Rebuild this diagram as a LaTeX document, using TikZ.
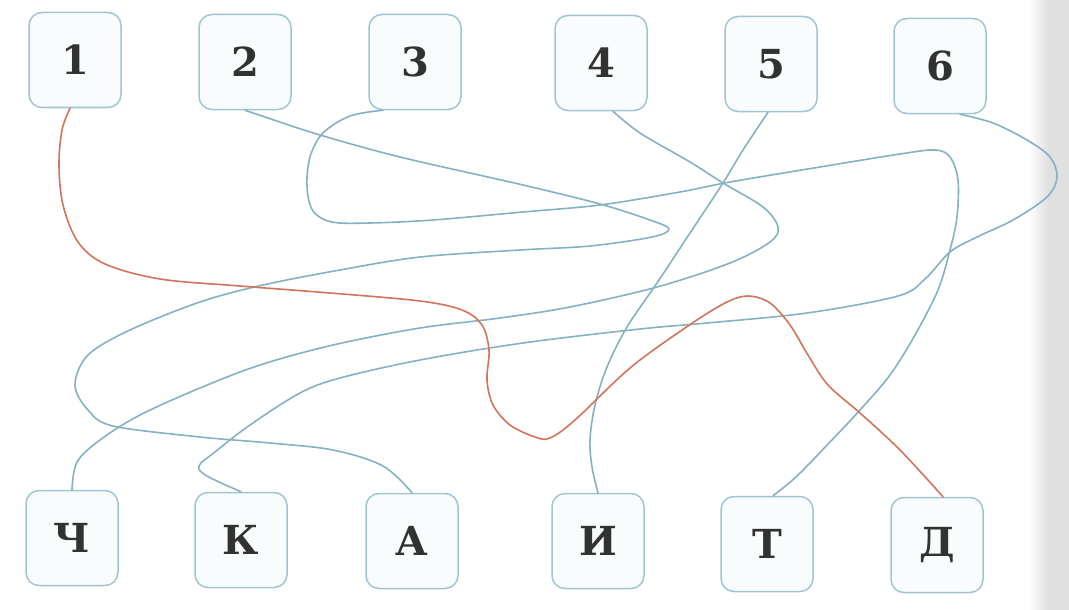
\documentclass[tikz,border=0pt]{standalone}
\usepackage{fontspec}
\setmainfont{DejaVu Serif}
\begin{document}
\begin{tikzpicture}[x=1pt,y=-1pt]
\definecolor{lineblue}{RGB}{132,178,195}
\definecolor{linered}{RGB}{210,116,90}
\definecolor{boxedge}{RGB}{160,196,210}
\definecolor{boxfill}{RGB}{249,252,253}
\definecolor{txt}{RGB}{50,50,50}
\tikzset{
  box/.style={draw=boxedge, fill=boxfill, line width=1.5pt, rounded corners=13pt,
    minimum width=92pt, minimum height=95pt, inner sep=0pt, text=txt,
    font=\fontsize{40}{44}\selectfont\bfseries},
  blueline/.style={draw=lineblue, line width=1.6pt, line cap=round, line join=round},
  redline/.style={draw=linered, line width=1.6pt, line cap=round, line join=round},
  curvy/.style={smooth, tension=0.55}
}
\useasboundingbox (0,0) rectangle (1069,610);
\fill[white] (0,0) rectangle (1069,610);
\shade[left color=white, right color=black!12] (1028,0) rectangle (1048,610);
\fill[black!12] (1048,0) rectangle (1069,610);

% top boxes
\node[box] (n1) at (75,60) {1};
\node[box] (n2) at (245,62) {2};
\node[box] (n3) at (415,62) {3};
\node[box] (n4) at (601,63) {4};
\node[box] (n5) at (771,64) {5};
\node[box] (n6) at (940,66) {6};
% bottom boxes
\node[box] (lch) at (72,538) {Ч};
\node[box] (lk) at (241,540) {К};
\node[box] (la) at (412,541) {А};
\node[box] (li) at (598,541) {И};
\node[box] (lt) at (767,544) {Т};
\node[box] (ld) at (937,545) {Д};

% 2 -> A
\draw[blueline] plot[curvy] coordinates {(n2.south) (268,118) (320,135) (400,157) (523,185) (600,204) (650,220) (669,229) (652,237) (590,246) (520,250) (420,257) (340,270) (263,285) (200,302) (130,330) (88,355) (75,385) (88,410) (113,426) (200,437) (270,443) (333,450) (383,466) (la.north)};

% 3 -> T
\draw[blueline] plot[curvy] coordinates {([xshift=-32pt]n3.south) (350,116) (323,133) (310,157) (307,187) (313,211) (332,222) (370,223) (433,220) (523,212) (600,205) (680,192) (730,182) (820,167) (900,154) (935,150) (950,157) (958,180) (957,217) (950,250) (938,290) (915,335) (890,375) (860,410) (830,442) (797,476) ([xshift=6pt]lt.north)};

% 4 -> Ch
\draw[blueline] plot[curvy] coordinates {([xshift=12pt]n4.south) (640,133) (690,162) (723,183) (763,207) (778,227) (770,242) (730,263) (657,287) (570,307) (500,318) (420,328) (333,345) (260,365) (200,388) (140,415) (100,440) (77,462) (lch.north)};

% 5 -> I
\draw[blueline] plot[curvy] coordinates {([xshift=-3pt]n5.south) (743,150) (723,183) (690,233) (657,283) (627,327) (607,367) (595,405) (590,440) (592,467) (li.north)};

% 6 -> K
\draw[blueline] plot[curvy] coordinates {([xshift=20pt]n6.south) (993,123) (1027,140) (1050,157) (1057,177) (1047,197) (1013,220) (977,237) (950,252) (925,279) (898,296) (807,313) (707,323) (640,329) (523,343) (420,360) (340,378) (300,393) (250,425) (215,452) (199,466) (207,476) (lk.north)};

% 1 -> D (red)
\draw[redline] plot[curvy] coordinates {([xshift=-5pt]n1.south) (62,130) (59,165) (63,205) (78,242) (105,264) (160,279) (240,286) (330,293) (420,301) (462,310) (482,325) (489,350) (487,380) (493,405) (510,425) (535,437) (550,438) (575,420) (630,368) (685,328) (725,303) (748,296) (770,303) (790,325) (808,355) (828,385) (860,413) (900,450) ([xshift=6pt]ld.north)};
\end{tikzpicture}
\end{document}
